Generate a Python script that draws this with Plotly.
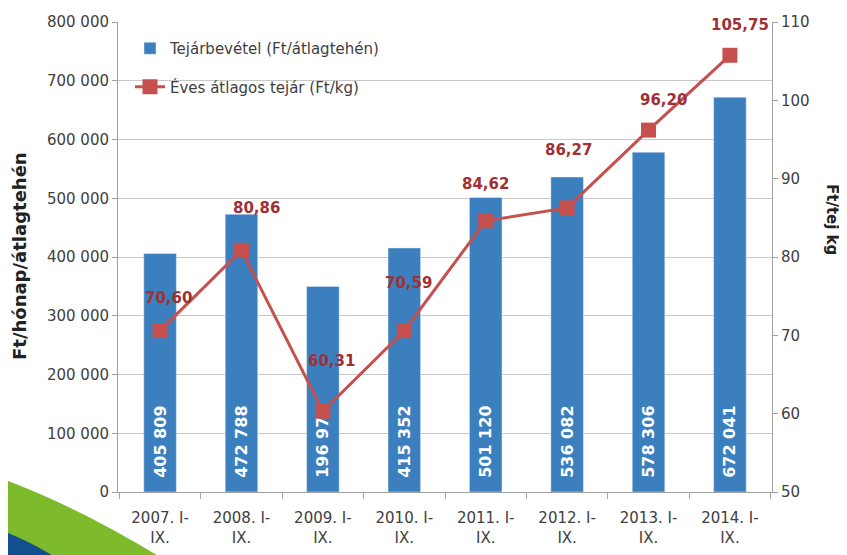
import plotly.graph_objects as go

categories = ["2007. I-<br>IX.", "2008. I-<br>IX.", "2009. I-<br>IX.", "2010. I-<br>IX.",
              "2011. I-<br>IX.", "2012. I-<br>IX.", "2013. I-<br>IX.", "2014. I-<br>IX."]
revenue = [405809, 472788, 350000, 415352, 501120, 536082, 578306, 672041]
revenue_labels = ["405 809", "472 788", "196 972", "415 352", "501 120", "536 082", "578 306", "672 041"]
milk_price = [70.60, 80.86, 60.31, 70.59, 84.62, 86.27, 96.20, 105.75]
price_labels = ["70,60", "80,86", "60,31", "70,59", "84,62", "86,27", "96,20", "105,75"]

# label offsets (pixels) for the line data labels
label_dx = [8, 15, 9, 4, 0, 1, 15, 10]
label_dy = [33, 42, 50, 48, 37, 58, 30, 30]

# page has an 8px body margin
OFF = 8
W, H = 847 - OFF, 555 - OFF
L, T = 118 - OFF, 22 - OFF
R, B = 847 - 772, 555 - 492
PW, PH = W - L - R, H - T - B

def px(x):
    return (x - OFF - L) / PW

def py(y):
    return (H - B - (y - OFF)) / PH

FONT = "DejaVu Sans, Liberation Sans, Arial"

fig = go.Figure()
fig.add_trace(go.Bar(
    x=categories, y=revenue, name="Tejárbevétel (Ft/átlagtehén)",
    marker=dict(color="#3b7fbf"),
    text=["<b>\u00a0\u00a0" + t + "</b>" for t in revenue_labels],
    textposition="inside", insidetextanchor="start", textangle=-90,
    textfont=dict(color="white", size=16, family=FONT),
    legendgroup="a", hoverinfo="skip",
))
fig.add_trace(go.Scatter(
    x=categories, y=milk_price, yaxis="y2", name="Éves átlagos tejár (Ft/kg)",
    mode="lines+markers", line=dict(color="#c5504d", width=3),
    marker=dict(symbol="square", size=15, color="#c5504d"),
    legendgroup="b", hoverinfo="skip",
))

annotations = []
for c, v, t, dx, dy in zip(categories, milk_price, price_labels, label_dx, label_dy):
    annotations.append(dict(x=c, y=v, yref="y2", text="<b>" + t + "</b>", showarrow=False,
                            xshift=dx, yshift=dy,
                            font=dict(size=15, color="#a03034", family=FONT)))
annotations.append(dict(xref="paper", yref="paper", x=px(832), y=py(220), text="<b>Ft/tej kg</b>",
                        textangle=90, showarrow=False, xanchor="center", yanchor="middle",
                        font=dict(size=15, color="#222", family=FONT)))
annotations.append(dict(xref="paper", yref="paper", x=px(19), y=py(256), text="<b>Ft/hónap/átlagtehén</b>",
                        textangle=-90, showarrow=False, xanchor="center", yanchor="middle",
                        font=dict(size=18, color="#222", family=FONT)))

def pt(x, y):
    return f"{px(x):.4f},{py(y):.4f}"

shapes = [
    dict(type="path", xref="paper", yref="paper", layer="above", line=dict(width=0),
         fillcolor="#7dba2c",
         path=f"M {pt(0,478)} Q {pt(75,505)} {pt(165,560)} L {pt(0,560)} Z"),
    dict(type="path", xref="paper", yref="paper", layer="above", line=dict(width=0),
         fillcolor="#134f8e",
         path=f"M {pt(0,530)} Q {pt(28,540)} {pt(60,560)} L {pt(0,560)} Z"),
]

fig.update_layout(
    width=W, height=H, margin=dict(l=L, r=R, t=T, b=B, autoexpand=False),
    paper_bgcolor="white", plot_bgcolor="white",
    separators=", ", bargap=0.6, showlegend=True,
    font=dict(family=FONT, color="#404040", size=15),
    legend=dict(x=px(130), y=py(32), xanchor="left", yanchor="top",
                bgcolor="rgba(0,0,0,0)", tracegroupgap=16,
                font=dict(size=15, color="#404040")),
    xaxis=dict(type="category", showline=True, linecolor="#a0a0a0", ticks="outside",
               tickson="boundaries", ticklen=6, tickcolor="#a0a0a0",
               tickfont=dict(size=15), ticklabelstandoff=12),
    yaxis=dict(range=[0, 800000], dtick=100000, tickformat=",d", showline=True,
               linecolor="#a0a0a0", gridcolor="#c8c8c8", ticks="outside", ticklen=5,
               tickcolor="#a0a0a0", tickfont=dict(size=15), zeroline=False),
    yaxis2=dict(range=[50, 110], dtick=10, overlaying="y", side="right", showgrid=False,
                showline=True, linecolor="#a0a0a0", ticks="outside", ticklen=5,
                tickcolor="#a0a0a0", tickfont=dict(size=15), zeroline=False),
    annotations=annotations, shapes=shapes,
)
fig.write_html("out.html")
